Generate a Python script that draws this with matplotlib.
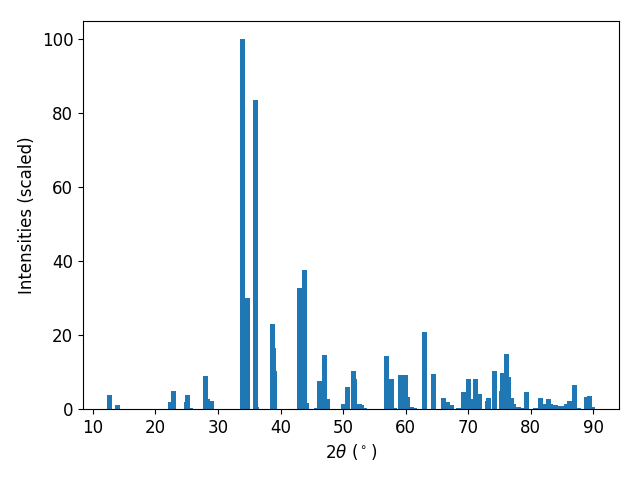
import matplotlib
matplotlib.use("Agg")
import matplotlib.pyplot as plt

two_theta = [12.7, 13.9, 22.4, 22.9, 24.96, 25.1, 25.6, 28.0, 28.3, 28.96,
             33.92, 34.72, 36.0, 36.16, 38.72, 38.88, 39.04, 43.04, 43.84, 44.16,
             45.76, 46.24, 47.04, 47.52, 50.03, 50.67, 51.63, 51.8, 52.6, 52.9,
             53.4, 56.9, 57.7, 58.2, 59.16, 59.96, 60.27, 60.9, 61.4, 63.0,
             64.44, 66.04, 66.7, 67.3, 68.5, 69.3, 70.1, 70.4, 71.2, 71.9,
             73.1, 73.3, 74.3, 75.3, 75.5, 76.1, 76.5, 77.0, 77.3, 78.1,
             78.6, 79.4, 80.8, 81.6, 82.1, 82.9, 83.2, 84.0, 84.8, 85.6,
             85.8, 86.2, 87.1, 87.7, 88.9, 89.0, 89.4, 89.85]
intensity = [3.8, 1.1, 1.9, 4.9, 1.9, 3.8, 0.3, 9.0, 2.7, 2.2,
             100.0, 30.1, 83.5, 0.5, 23.0, 16.5, 10.3, 32.8, 37.7, 1.6,
             0.3, 7.6, 14.6, 2.7, 1.3, 6.0, 10.3, 8.1, 1.3, 1.2,
             0.3, 14.4, 8.1, 0.3, 9.2, 9.2, 3.3, 0.5, 0.3, 20.9,
             9.5, 3.0, 1.9, 1.2, 0.3, 4.6, 8.1, 2.7, 8.1, 4.1,
             2.2, 3.0, 10.3, 4.9, 9.8, 14.9, 8.7, 3.0, 1.3, 0.5,
             0.3, 4.6, 0.3, 3.0, 1.3, 2.7, 1.3, 1.0, 0.8, 0.8,
             1.3, 2.2, 6.5, 0.3, 0.5, 3.3, 3.5, 0.5]

plt.rcParams['font.size'] = 12
fig, ax = plt.subplots(figsize=(6.4, 4.8), dpi=100)
ax.bar(two_theta, intensity, width=0.8, color='#1f77b4')
ax.set_xlabel(r'$2\theta$ ($^\circ$)')
ax.set_ylabel('Intensities (scaled)')
fig.subplots_adjust(left=83/640, right=619/640, top=1-21/480, bottom=1-409/480)
fig.savefig('out.png')
